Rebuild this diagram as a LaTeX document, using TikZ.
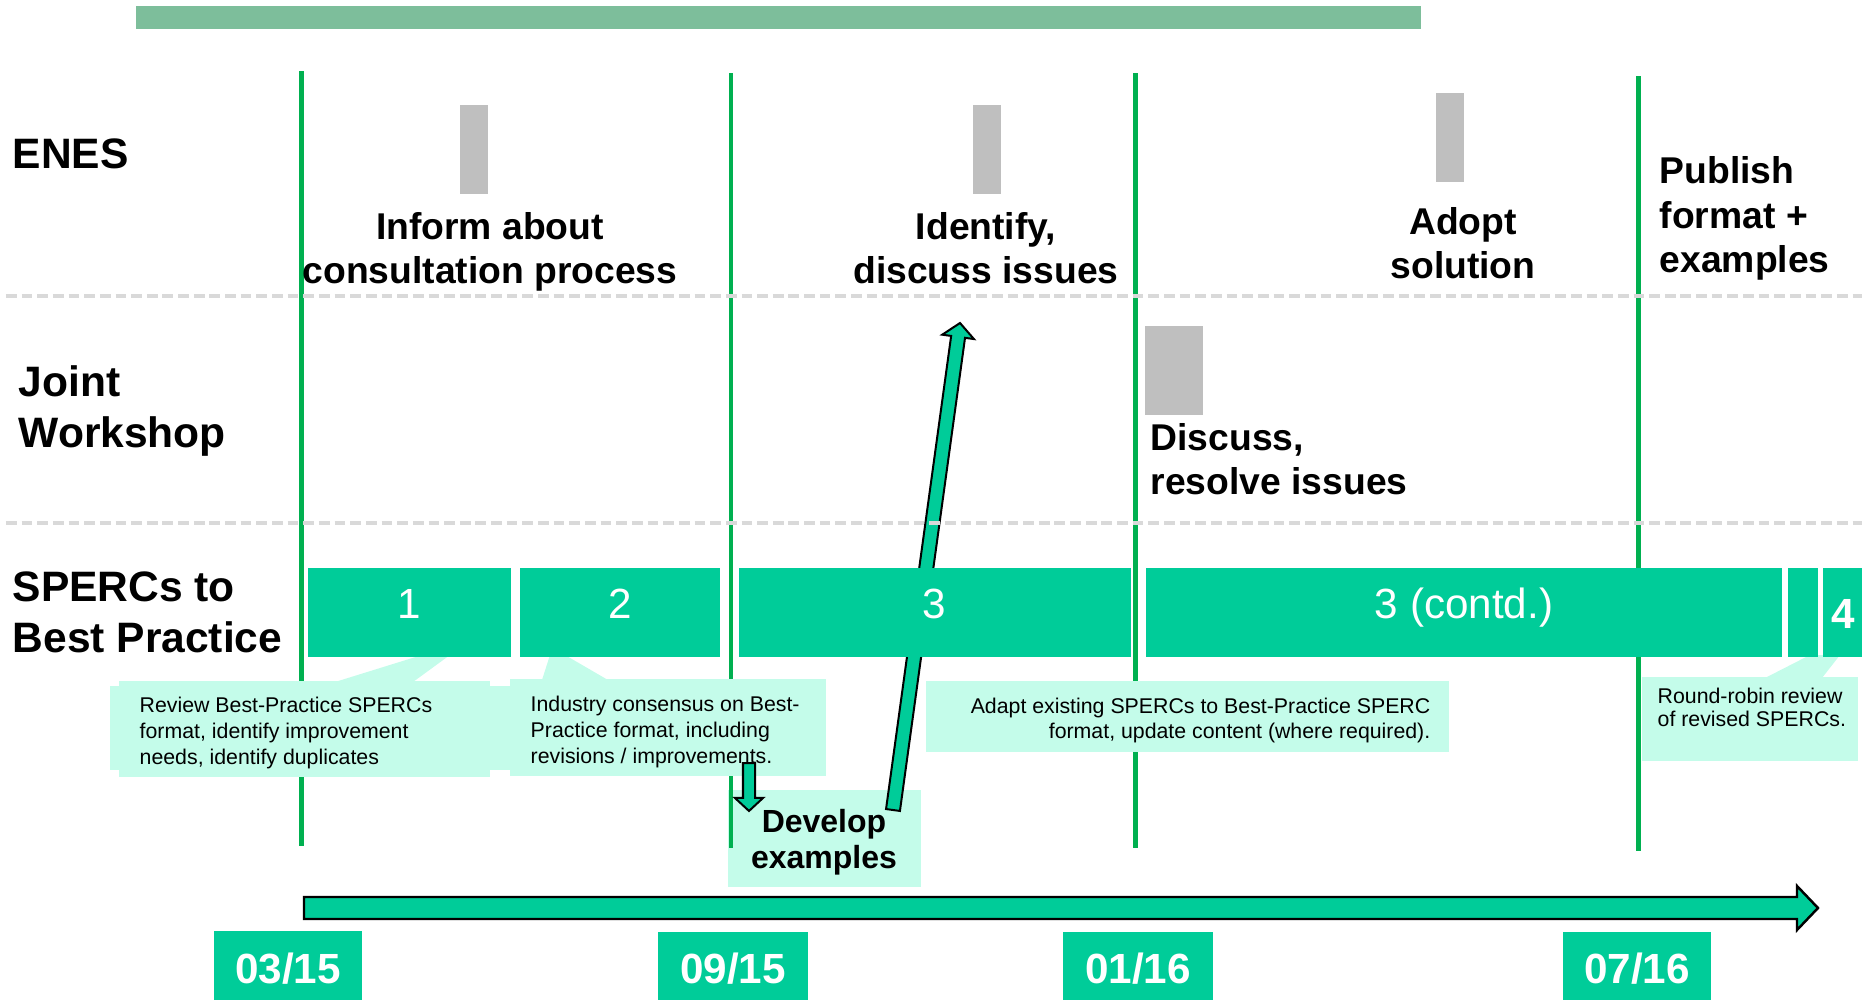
\documentclass[tikz,border=0pt]{standalone}
\usepackage{fontspec}
\setmainfont{Liberation Sans}
\usetikzlibrary{calc}
\definecolor{teal1}{RGB}{0,204,153}
\definecolor{aqua}{RGB}{196,252,234}
\definecolor{vgreen}{RGB}{0,176,80}
\definecolor{greyr}{RGB}{191,191,191}
\definecolor{dashg}{RGB}{217,217,217}
\definecolor{barg}{RGB}{125,190,155}
\newcommand{\blockarr}[6]{%
  \coordinate (bh) at ($(#3)!#6!(#2)$);
  \filldraw[#1] ($(#2)!#4!90:(#3)$) -- ($(bh)!#4!90:(#3)$) -- ($(bh)!#5!90:(#3)$) -- (#3)
    -- ($(bh)!#5!-90:(#3)$) -- ($(bh)!#4!-90:(#3)$) -- ($(#2)!#4!-90:(#3)$) -- cycle;}
\begin{document}
\begin{tikzpicture}[x=0.01cm,y=-0.01cm,
  head/.style={font=\fontsize{12.1}{14.5}\selectfont\bfseries, inner sep=0, align=left, anchor=north west},
  task/.style={font=\fontsize{10.6}{12.5}\selectfont\bfseries, inner sep=0},
  devtxt/.style={font=\fontsize{9.1}{10.2}\selectfont\bfseries, inner sep=0, align=center, anchor=north},
  note/.style={font=\fontsize{6.06}{7.4}\selectfont, inner sep=0},
  blabel/.style={font=\fontsize{12}{14}\selectfont, text=white, inner sep=0, anchor=base},
  dlabel/.style={font=\fontsize{12}{14}\selectfont\bfseries, text=white, inner sep=0, anchor=base},
  vline/.style={draw=vgreen, line width=1.42pt},
  rowsep/.style={draw=dashg, line width=1pt, dash pattern=on 3.05pt off 1.4pt},
  tealbox/.style={fill=teal1},
  callout/.style={fill=aqua},
  greybar/.style={fill=greyr},
  blockarrow/.style={fill=teal1, draw=black, line width=0.57pt, line join=miter}]
\useasboundingbox (0,0) rectangle (1862,1000);
\clip (0,0) rectangle (1862,1000);

% top bar
\fill[barg] (136,6) rectangle (1421,29);

% grey markers
\fill[greybar] (460,105) rectangle (488,194);
\fill[greybar] (973,105) rectangle (1001,194);
\fill[greybar] (1436,93) rectangle (1464,182);
\fill[greybar] (1145,326) rectangle (1203,415);

% develop box
\fill[callout] (728,790) rectangle (921,887);

% vertical milestone lines
\draw[vline] (301.5,71) -- (301.5,846);
\draw[vline] (731,73) -- (731,848);
\draw[vline] (1135,73) -- (1135,848);
\draw[vline] (1638.5,76) -- (1638.5,851);

% callouts
\fill[callout] (119,681) rectangle (490,777);
\fill[callout] (110,686) rectangle (510,770);
\fill[callout] (335,682) -- (413,682) -- (450,655) -- (422,655) -- cycle;
\fill[callout] (510,679) rectangle (826,776);
\fill[callout] (542,680) -- (608,680) -- (565,655) -- (550,655) -- cycle;
\fill[callout] (926,681) rectangle (1449,752);
\fill[callout] (1642,677) rectangle (1858,761);
\fill[callout] (1765,678) -- (1822,678) -- (1840,655) -- (1810,655) -- cycle;

% diagonal arrow (develop -> identify)
\coordinate (dA) at (893,810);
\coordinate (dB) at (960,323);
\blockarr{blockarrow}{dA}{dB}{0.07cm}{0.16cm}{0.14cm}

% teal phase boxes
\fill[tealbox] (308,568) rectangle (511,657);
\fill[tealbox] (520,568) rectangle (720,657);
\fill[tealbox] (739,568) rectangle (1131,657);
\fill[tealbox] (1146,568) rectangle (1782,657);
\fill[tealbox] (1788,568) rectangle (1818,657);
\fill[tealbox] (1823,568) rectangle (1880,657);

% down arrow
\coordinate (aA) at (749,763);
\coordinate (aB) at (749,811);
\blockarr{blockarrow}{aA}{aB}{0.06cm}{0.14cm}{0.13cm}

% row separators
\draw[rowsep] (6,296) -- (1862,296);
\draw[rowsep] (6,523) -- (1862,523);

% timeline arrow
\coordinate (tA) at (304,908);
\coordinate (tB) at (1818,908);
\blockarr{blockarrow, line width=0.7pt}{tA}{tB}{0.11cm}{0.22cm}{0.21cm}

% date boxes
\fill[tealbox] (214,931) rectangle (362,1002);
\fill[tealbox] (658,932) rectangle (808,1002);
\fill[tealbox] (1063,932) rectangle (1213,1002);
\fill[tealbox] (1563,932) rectangle (1711,1002);
\node[dlabel] (d1) at (288,983) {03/15};
\node[dlabel] (d2) at (733,983) {09/15};
\node[dlabel] (d3) at (1138,983) {01/16};
\node[dlabel] (d4) at (1637,983) {07/16};

% row headings
\node[head] (enes) at (12,138) {ENES};
\node[head] (joint) at (18,365) {Joint\\Workshop};
\node[head] (spercs) at (12,571) {SPERCs to\\Best Practice};

% tasks
\node[task, anchor=north, align=center] (inform) at (490,212) {Inform about\\consultation process};
\node[task, anchor=north, align=center] (identify) at (986,212) {Identify,\\discuss issues};
\node[task, anchor=north, align=center] (adopt) at (1463,207) {Adopt\\solution};
\node[task, anchor=north west, align=left, font=\fontsize{10.6}{12.6}\selectfont\bfseries] (publish) at (1659,156) {Publish\\format +\\examples};
\node[task, anchor=north west, align=left] (discuss) at (1150,423) {Discuss,\\resolve issues};
\node[devtxt] (develop) at (824,809) {Develop\\examples};

% box labels
\node[blabel] (l1) at (409.5,618) {1};
\node[blabel] (l2) at (620,618) {2};
\node[blabel] (l3) at (934,618) {3};
\node[blabel] (l3c) at (1464,618) {3 (contd.)};
\node[blabel, font=\fontsize{12}{14}\selectfont\bfseries] (l4) at (1843,628) {4};

% callout texts
\node[note, anchor=north west, align=left] (n1) at (139,696) {Review Best-Practice SPERCs\\format, identify improvement\\needs, identify duplicates};
\node[note, anchor=north west, align=left] (n2) at (530,695) {Industry consensus on Best-\\Practice format, including\\revisions / improvements.};
\node[note, anchor=north east, align=right, font=\fontsize{6.06}{7.1}\selectfont] (n3) at (1431,697) {Adapt existing SPERCs to Best-Practice SPERC\\format, update content (where required).};
\node[note, anchor=north west, align=left, font=\fontsize{6.06}{6.7}\selectfont] (n4) at (1657,687) {Round-robin review\\of revised SPERCs.};
\end{tikzpicture}
\end{document}
